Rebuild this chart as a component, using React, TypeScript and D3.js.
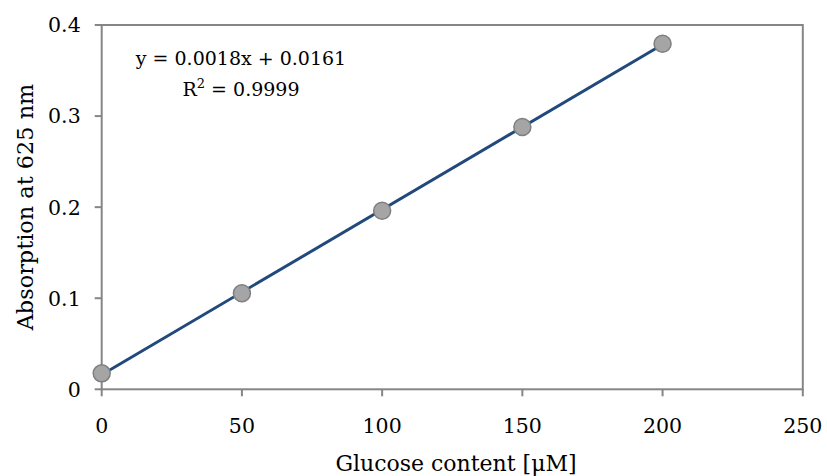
import React from "react";
import * as d3 from "d3";

const concentrations = [0, 50, 100, 150, 200];
const absorbances = [0.0175, 0.1055, 0.196, 0.288, 0.3795];
const xTicks = [0, 50, 100, 150, 200, 250];
const yTicks = [0, 0.1, 0.2, 0.3, 0.4];
const xLabel = "Glucose content [μM]";
const yLabel = "Absorption at 625 nm";
const eqText = "y = 0.0018x + 0.0161";
const r2Value = "0.9999";

const W = 827;
const H = 476;
const FONT = "'DejaVu Serif', serif";

export default function App() {
  const x = d3.scaleLinear().domain([0, 250]).range([101.7, 802.8]);
  const y = d3.scaleLinear().domain([0, 0.4]).range([389.3, 25]);

  // least-squares fit
  const mx = d3.mean(concentrations)!;
  const my = d3.mean(absorbances)!;
  const slope =
    d3.sum(concentrations.map((c, i) => (c - mx) * (absorbances[i] - my))) /
    d3.sum(concentrations.map((c) => (c - mx) ** 2));
  const intercept = my - slope * mx;
  const x0 = d3.min(concentrations)!;
  const x1 = d3.max(concentrations)!;
  const line = d3
    .line<number>()
    .x((d) => x(d))
    .y((d) => y(slope * d + intercept));

  const axisColor = "#868686";

  return (
    <svg
      width={W}
      height={H}
      style={{ position: "absolute", left: 0, top: 0, background: "#fff" }}
      fontFamily={FONT}
    >
      <rect x={0} y={0} width={W} height={H} fill="#fff" />
      {/* plot frame */}
      <rect
        x={x(0)}
        y={y(0.4)}
        width={x(250) - x(0)}
        height={y(0) - y(0.4)}
        fill="none"
        stroke={axisColor}
        strokeWidth={2}
      />
      {/* y ticks */}
      {yTicks.map((t) => (
        <g key={"y" + t}>
          <line x1={x(0) - 7} x2={x(0)} y1={y(t)} y2={y(t)} stroke={axisColor} strokeWidth={2} />
          <text
            x={x(0) - 21}
            y={y(t)}
            dy="0.36em"
            textAnchor="end"
            fontSize={20.5}
            fill="#000"
          >
            {t === 0 ? "0" : d3.format(".1f")(t)}
          </text>
        </g>
      ))}
      {/* x ticks */}
      {xTicks.map((t) => (
        <g key={"x" + t}>
          <line x1={x(t)} x2={x(t)} y1={y(0)} y2={y(0) + 7} stroke={axisColor} strokeWidth={2} />
          <text x={x(t)} y={433} textAnchor="middle" fontSize={20.5} fill="#000">
            {t}
          </text>
        </g>
      ))}
      {/* trendline */}
      <path d={line([x0, x1]) || ""} fill="none" stroke="#22497c" strokeWidth={3} />
      {/* points */}
      {concentrations.map((c, i) => (
        <circle
          key={"p" + c}
          cx={x(c)}
          cy={y(absorbances[i])}
          r={8.5}
          fill="#a5a5a5"
          stroke="#7f7f7f"
          strokeWidth={1.5}
        />
      ))}
      {/* equation */}
      <text x={241} y={65} textAnchor="middle" fontSize={19} fill="#000">
        {eqText}
      </text>
      <text x={241} y={96} textAnchor="middle" fontSize={19} fill="#000">
        R<tspan dy={-8} fontSize={13}>2</tspan>
        <tspan dy={8}> = {r2Value}</tspan>
      </text>
      {/* axis titles */}
      <text x={456} y={471} textAnchor="middle" fontSize={22} fill="#000">
        {xLabel}
      </text>
      <text
        transform={`translate(33, 207) rotate(-90)`}
        textAnchor="middle"
        fontSize={22.4}
        fill="#000"
      >
        {yLabel}
      </text>
    </svg>
  );
}
